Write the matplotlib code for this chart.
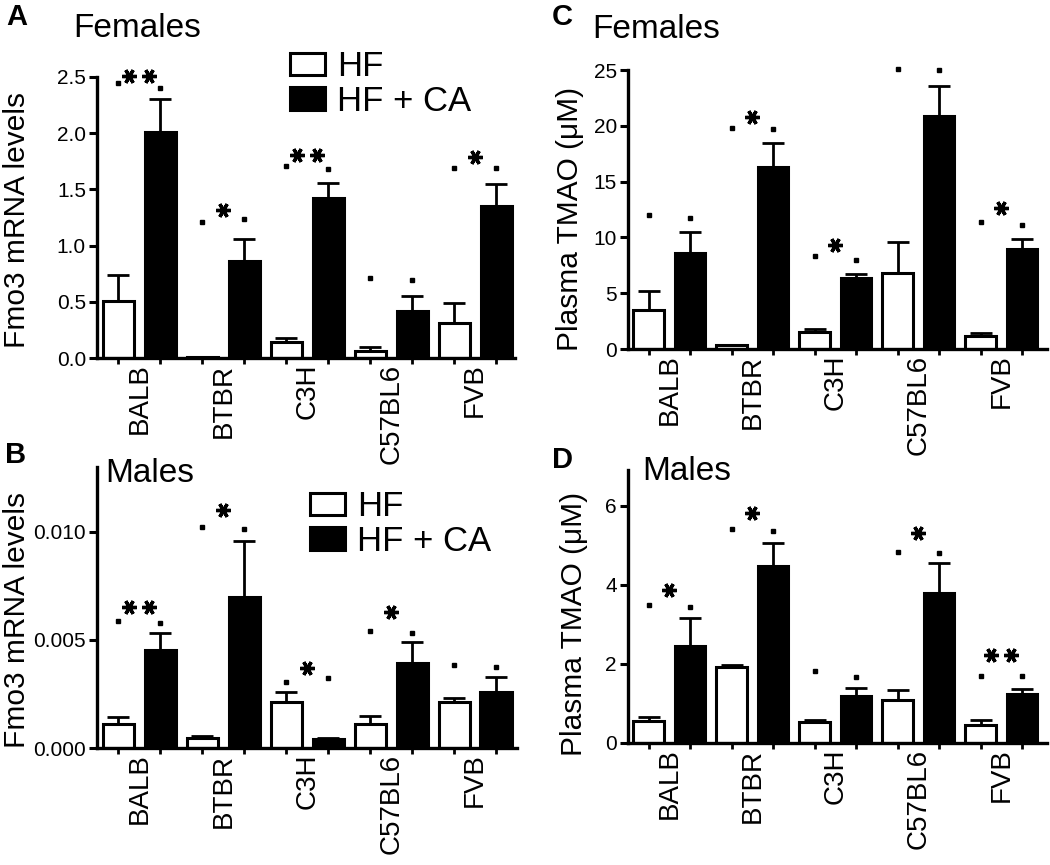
import numpy as np
import matplotlib
matplotlib.use("Agg")
import matplotlib.pyplot as plt
from matplotlib.patches import Patch
from matplotlib.ticker import FormatStrFormatter

plt.rcParams["font.family"] = ["Liberation Sans", "DejaVu Sans"]

strains = ["BALB", "BTBR", "C3H", "C57BL6", "FVB"]

# A: Fmo3 mRNA, females
a_hf = [0.51, 0.01, 0.145, 0.065, 0.31]
a_hf_err = [0.23, 0.0, 0.035, 0.035, 0.18]
a_ca = [2.01, 0.86, 1.42, 0.42, 1.35]
a_ca_err = [0.29, 0.20, 0.135, 0.135, 0.195]
a_sig_l = [2.45, 1.21, 1.71, 0.71, 1.69]
a_sig_r = [2.40, 1.24, 1.68, 0.69, 1.69]
a_stars = ["**", "*", "**", "", "*"]
a_star_y = [2.51, 1.32, 1.81, 0, 1.79]

# B: Fmo3 mRNA, males
b_hf = [0.00112, 0.00046, 0.00215, 0.00112, 0.00212]
b_hf_err = [0.00031, 0.00011, 0.00043, 0.00038, 0.00019]
b_ca = [0.00454, 0.00697, 0.00043, 0.00392, 0.00258]
b_ca_err = [0.00077, 0.00261, 0.00002, 0.00097, 0.00070]
b_sig_l = [0.00589, 0.01023, 0.00305, 0.00541, 0.00384]
b_sig_r = [0.00580, 0.01015, 0.00323, 0.00534, 0.00377]
b_stars = ["**", "*", "*", "*", ""]
b_star_y = [0.00654, 0.0110, 0.00369, 0.0063, 0]

# C: plasma TMAO, females
c_hf = [3.5, 0.35, 1.5, 6.8, 1.2]
c_hf_err = [1.7, 0.05, 0.25, 2.8, 0.25]
c_ca = [8.57, 16.3, 6.4, 20.9, 8.93]
c_ca_err = [1.88, 2.2, 0.3, 2.7, 0.93]
c_sig_l = [12.0, 19.8, 8.3, 25.1, 11.4]
c_sig_r = [11.7, 19.7, 8.0, 25.0, 11.1]
c_stars = ["", "*", "*", "", "*"]
c_star_y = [0, 20.8, 9.3, 0, 12.6]

# D: plasma TMAO, males
d_hf = [0.56, 1.91, 0.52, 1.09, 0.46]
d_hf_err = [0.09, 0.07, 0.07, 0.26, 0.11]
d_ca = [2.44, 4.48, 1.2, 3.79, 1.24]
d_ca_err = [0.73, 0.57, 0.19, 0.76, 0.12]
d_sig_l = [3.49, 5.40, 1.81, 4.84, 1.70]
d_sig_r = [3.45, 5.37, 1.68, 4.80, 1.69]
d_stars = ["*", "*", "", "*", "**"]
d_star_y = [3.87, 5.81, 0, 5.3, 2.23]

W, H = 1050, 865
fig = plt.figure(figsize=(10.5, 8.65), dpi=100)


def px_axes(l, r, b, t):
    return fig.add_axes([l / W, 1 - b / H, (r - l) / W, (b - t) / H])


def panel(ax, hf, hf_err, ca, ca_err, sig_l, sig_r, stars, star_y, ylim, yticks,
          fmt, xlim, ylabel, label_xy):
    x_hf = np.arange(5) * 2
    x_ca = x_hf + 1
    ax.bar(x_hf, hf, width=0.74, color="white", edgecolor="black", linewidth=2.2, zorder=2)
    ax.bar(x_ca, ca, width=0.74, color="black", edgecolor="black", linewidth=2.2, zorder=2)
    for x, y, e in [(x_hf, hf, hf_err), (x_ca, ca, ca_err)]:
        ax.errorbar(x, y, yerr=[np.zeros(5), e], fmt="none", ecolor="black",
                    elinewidth=2.0, capsize=8, capthick=2.0, zorder=3)
    # significance marks
    ax.plot(x_hf, sig_l, ls="none", marker="s", ms=3.0, color="black", clip_on=False)
    ax.plot(x_ca, sig_r, ls="none", marker="s", ms=3.0, color="black", clip_on=False)
    for i, s in enumerate(stars):
        if not s:
            continue
        c = 2 * i + 0.5
        xs = [c] if len(s) == 1 else [c - 0.24, c + 0.24]
        ax.plot(xs, [star_y[i]] * len(xs), ls="none", marker=(6, 2, 90), ms=10.5,
                mew=2.4, color="black", clip_on=False)

    ax.set_xlim(*xlim)
    ax.set_ylim(*ylim)
    ax.set_yticks(yticks)
    ax.yaxis.set_major_formatter(FormatStrFormatter(fmt))
    ax.set_xticks(np.arange(10))
    ax.set_xticklabels([])
    ax.set_xticks(np.arange(5) * 2 + 0.5, minor=True)
    ax.set_xticklabels(strains, minor=True, rotation=90, fontsize=20)
    ax.tick_params(axis="x", which="major", length=4, width=2, direction="out")
    ax.tick_params(axis="x", which="minor", length=0, pad=4)
    ax.tick_params(axis="y", length=6, width=2.2, labelsize=15, pad=2)
    for sp in ["top", "right"]:
        ax.spines[sp].set_visible(False)
    for sp in ["left", "bottom"]:
        ax.spines[sp].set_linewidth(2.4)
    ax.set_ylabel(ylabel, fontsize=21.5)
    ax.yaxis.set_label_coords(*label_xy)


ax_a = px_axes(97, 515, 358, 77)
panel(ax_a, a_hf, a_hf_err, a_ca, a_ca_err, a_sig_l, a_sig_r, a_stars, a_star_y,
      (0, 2.5), [0, 0.5, 1.0, 1.5, 2.0, 2.5], "%.1f", (-0.51, 9.45),
      "Fmo3 mRNA levels", (-0.158, 0.49))

ax_b = px_axes(97, 517, 748, 467)
panel(ax_b, b_hf, b_hf_err, b_ca, b_ca_err, b_sig_l, b_sig_r, b_stars, b_star_y,
      (0, 0.013), [0, 0.005, 0.010], "%.3f", (-0.51, 9.5),
      "Fmo3 mRNA levels", (-0.158, 0.455))

ax_c = px_axes(628, 1047, 349, 70)
panel(ax_c, c_hf, c_hf_err, c_ca, c_ca_err, c_sig_l, c_sig_r, c_stars, c_star_y,
      (0, 25), [0, 5, 10, 15, 20, 25], "%d", (-0.494, 9.6),
      "Plasma TMAO (\u03bcM)", (-0.105, 0.466))

ax_d = px_axes(628, 1047, 743, 470)
panel(ax_d, d_hf, d_hf_err, d_ca, d_ca_err, d_sig_l, d_sig_r, d_stars, d_star_y,
      (0, 6.9), [0, 2, 4, 6], "%d", (-0.494, 9.6),
      "Plasma TMAO (\u03bcM)", (-0.095, 0.4365))

# panel letters and titles (pixel baselines)
letters = [("A", 6, 25), ("C", 552, 25), ("B", 5, 463), ("D", 552, 468)]
titles = [("Females", 73, 37), ("Females", 592, 38), ("Males", 105, 482), ("Males", 642, 480)]
for t, x, y in letters:
    fig.text(x / W, 1 - y / H, t, fontsize=21, fontweight="bold", va="baseline")
for t, x, y in titles:
    fig.text(x / W, 1 - y / H, t, fontsize=24, va="baseline")

handles = [Patch(facecolor="white", edgecolor="black", linewidth=2.2),
           Patch(facecolor="black", edgecolor="black", linewidth=2.2)]
for ax, (lx, ly) in [(ax_a, (290, 50)), (ax_b, (310, 490))]:
    ax.legend(handles, ["HF", "HF + CA"], loc="upper left", fontsize=25,
              bbox_to_anchor=(lx / W, 1 - ly / H), bbox_transform=fig.transFigure,
              frameon=False, borderpad=0, borderaxespad=0, handlelength=1.0,
              handleheight=0.62, handletextpad=0.35, labelspacing=0.05)

fig.savefig("out.png", dpi=100)
